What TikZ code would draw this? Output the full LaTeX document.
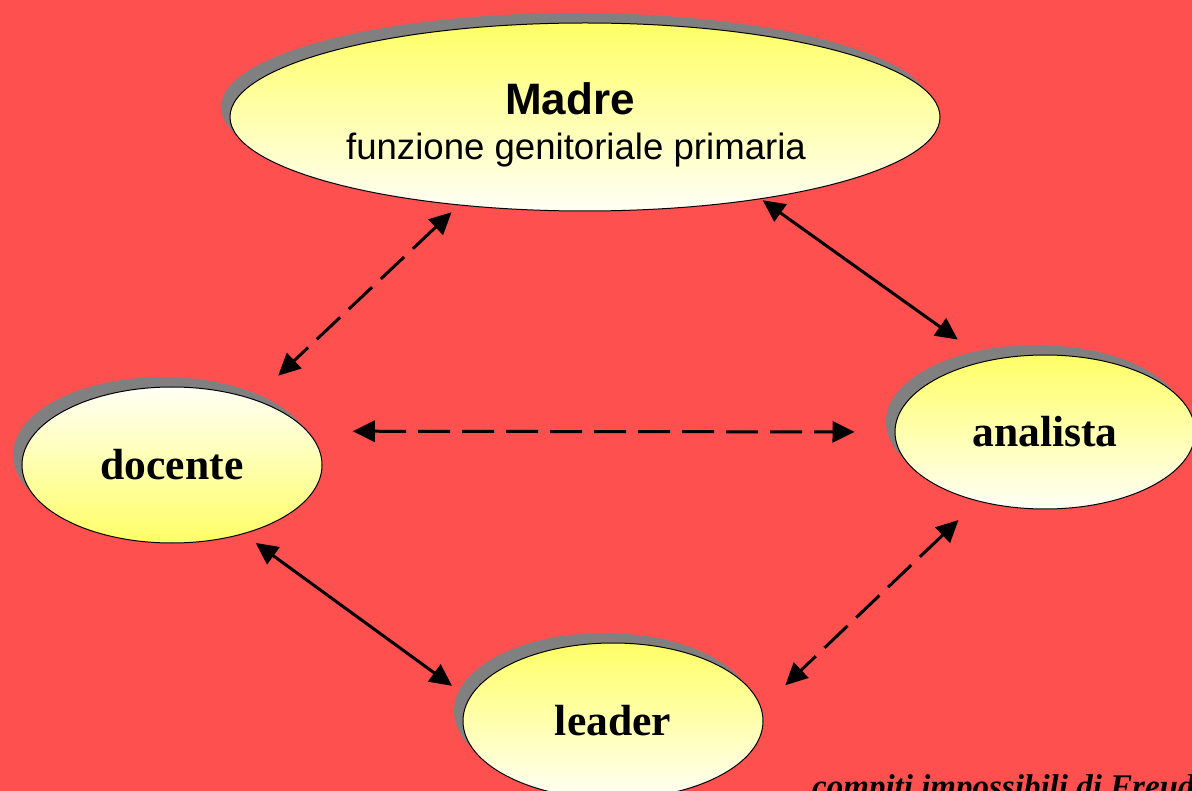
\documentclass[tikz,border=0pt]{standalone}
\usepackage{fontspec}
\setmainfont{Liberation Serif}
\newfontfamily\arialfont{Liberation Sans}
\usepackage{xcolor}
\usetikzlibrary{shapes.geometric, shadows, arrows.meta}

\definecolor{slidered}{RGB}{255,80,80}
\definecolor{ovalyellow}{RGB}{255,255,102}
\definecolor{ovalwhite}{RGB}{255,255,246}

\begin{document}
\begin{tikzpicture}[
  x=1pt, y=-1pt,
  every node/.style={inner sep=0pt},
  oval/.style={ellipse, draw=black, line width=1pt,
    drop shadow={shadow xshift=-9pt, shadow yshift=10pt, fill=black!50, opacity=1}},
  downshade/.style={top color=ovalyellow, bottom color=ovalwhite},
  upshade/.style={top color=ovalwhite, bottom color=ovalyellow},
  lbl/.style={font=\fontsize{43.6}{48}\selectfont\bfseries},
  arrow/.style={{Triangle[length=22pt, width=21pt]}-{Triangle[length=22pt, width=21pt]},
    line width=3pt, black},
  broken/.style={dash pattern=on 32pt off 12pt}
]

\useasboundingbox (0,0) rectangle (1192,791);
\clip (0,0) rectangle (1192,791);
\fill[slidered] (0,0) rectangle (1192,791);

% Ovals
\node[oval, downshade, minimum width=710pt, minimum height=188pt, align=center,
      font=\arialfont\fontsize{36.6}{45}\selectfont] (madre) at (585,117)
  {\rule{0pt}{47pt}{\fontsize{44}{45}\selectfont\bfseries Madre}\hspace*{30pt}\\
   funzione genitoriale primaria\hspace*{18pt}};
\node[oval, upshade, lbl, minimum width=300pt, minimum height=156pt] (docente) at (172,465) {docente};
\node[oval, downshade, lbl, minimum width=300pt, minimum height=154pt] (analista) at (1045,432) {analista};
\node[oval, downshade, lbl, minimum width=300pt, minimum height=156pt] (leader) at (613,721) {leader};

% Footer
\node[font=\fontsize{33}{36}\selectfont\bfseries\itshape, anchor=base west] (motto) at (812,797)
  {compiti impossibili di Freud};

% Connections
\draw[arrow, broken, shorten <=10pt, shorten >=34pt] (madre.215) -- (docente.39);
\draw[arrow, shorten <=2pt, shorten >=36pt] (madre.335) -- (analista.129);
\draw[arrow, broken, shorten <=45pt, shorten >=40pt] (docente.14) -- (analista.west);
\draw[arrow, shorten <=15pt, shorten >=21pt] (docente.316) -- (leader.171);
\draw[arrow, broken, shorten <=27pt, shorten >=33pt] (analista.226) -- (leader.5);

\end{tikzpicture}
\end{document}
